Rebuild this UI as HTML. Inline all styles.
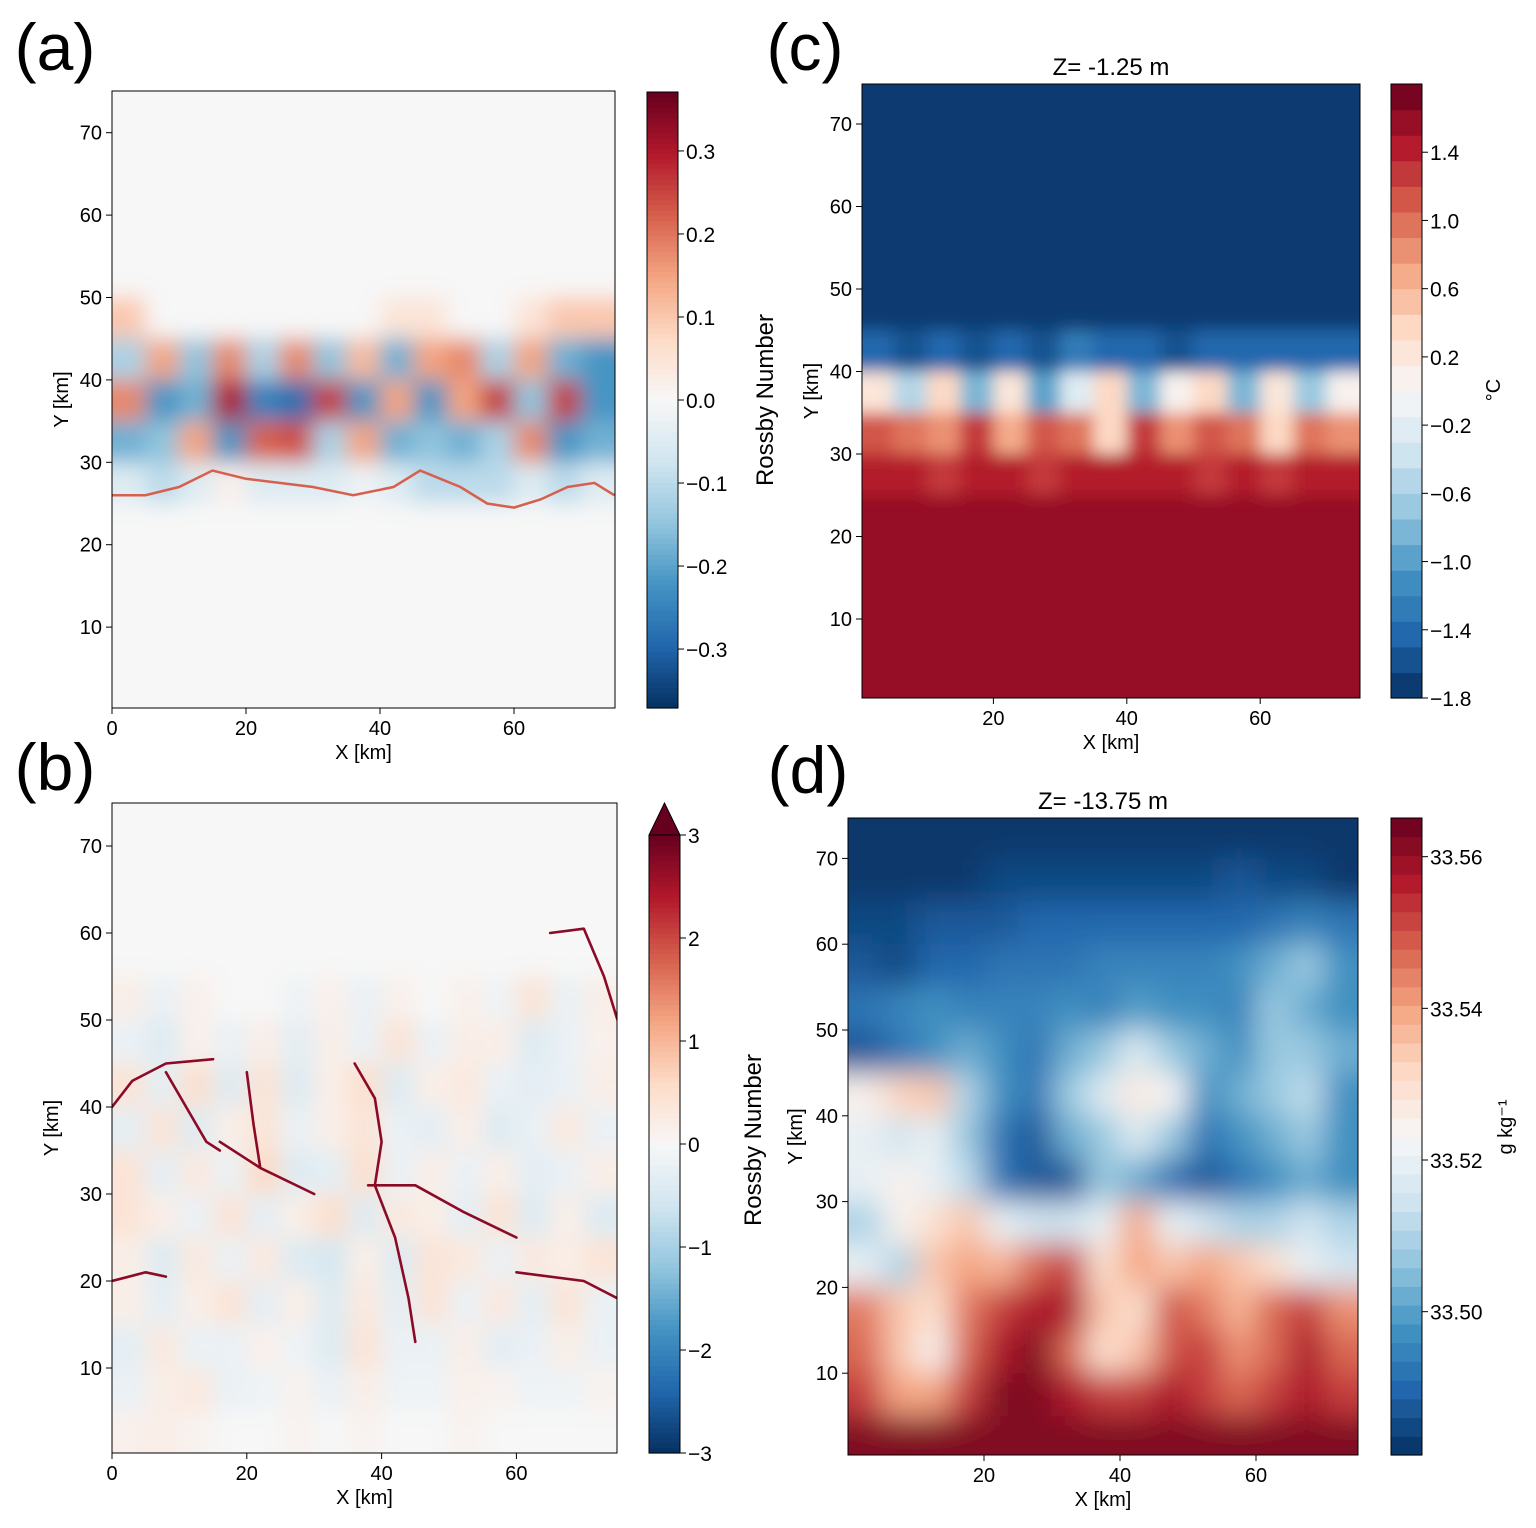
<!DOCTYPE html>
<html><head><meta charset="utf-8"><style>
html,body{margin:0;padding:0;background:#fff;}
svg{display:block;font-family:"Liberation Sans",sans-serif;}
</style></head><body>
<svg id="fig" width="1536" height="1528" viewBox="0 0 1536 1528" xmlns="http://www.w3.org/2000/svg">
<defs>
<filter id="blurA" x="-5%" y="-5%" width="110%" height="110%"><feGaussianBlur stdDeviation="11"/></filter>
<filter id="blurC" x="-5%" y="-5%" width="110%" height="110%"><feGaussianBlur stdDeviation="8"/></filter>
<filter id="blurD" x="-5%" y="-5%" width="110%" height="110%"><feGaussianBlur stdDeviation="15"/></filter>
</defs>
</svg>
<script>
// ---------- data ----------
const xTicks = [0,20,40,60];
const xTicksCD = [20,40,60];
const yTicks = [10,20,30,40,50,60,70];
const cbTicksA = [0.3,0.2,0.1,0.0,-0.1,-0.2,-0.3];
const cbTickLabelsA = ["0.3","0.2","0.1","0.0","\u22120.1","\u22120.2","\u22120.3"];
const cbTicksB = [3,2,1,0,-1,-2,-3];
const cbTickLabelsB = ["3","2","1","0","\u22121","\u22122","\u22123"];
const cbTicksC = [1.4,1.0,0.6,0.2,-0.2,-0.6,-1.0,-1.4,-1.8];
const cbTickLabelsC = ["1.4","1.0","0.6","0.2","\u22120.2","\u22120.6","\u22121.0","\u22121.4","\u22121.8"];
const cbTicksD = [33.56,33.54,33.52,33.50];
const cbTickLabelsD = ["33.56","33.54","33.52","33.50"];

const z0 = [0,0,0,0,0,0,0,0,0,0,0,0,0,0,0];
const fieldA = [
 z0,z0,z0,z0,z0,
 [0.1,0,0,0,0,0,0,0,0.05,0.05,0,0,0.05,0.1,0.1],
 [-0.12,0.15,-0.15,0.18,-0.12,0.18,-0.15,0.12,-0.18,0.15,0.18,-0.12,0.15,-0.18,-0.22],
 [0.18,-0.22,-0.18,0.3,-0.25,-0.28,0.26,-0.22,0.15,-0.22,0.15,0.26,-0.15,0.26,-0.22],
 [-0.18,-0.15,0.15,-0.22,0.22,0.24,-0.12,0.15,-0.18,-0.15,-0.18,-0.12,0.18,-0.22,-0.18],
 [-0.05,-0.1,-0.05,0.02,-0.05,-0.05,-0.05,-0.02,-0.05,-0.1,-0.1,-0.1,-0.05,-0.1,-0.05],
 z0,z0,z0,z0,z0
];
const fieldB = [
 z0,z0,z0,z0,
 [0.2,-0.2,0.15,0,0,-0.15,0.15,-0.2,0.15,0,0.15,-0.15,0.4,-0.2,0.2],
 [-0.2,-0.4,0.15,-0.2,0.2,-0.3,0.2,-0.2,0.4,-0.2,0.2,0.2,-0.4,-0.2,0.15],
 [0.4,-0.3,0.5,-0.4,0.4,-0.4,0.2,0.5,-0.4,0.2,0.3,-0.2,-0.3,-0.2,0.2],
 [-0.3,0.4,-0.4,0.2,0.4,-0.2,0.2,0.4,-0.2,-0.3,0.2,-0.4,-0.2,0.3,-0.2],
 [0.4,-0.3,0.3,-0.2,0.6,-0.4,-0.3,0.5,-0.2,0.2,-0.2,0.2,-0.3,-0.2,0.2],
 [0.4,0.2,-0.2,0.4,-0.3,0.2,0.5,-0.4,0.3,0.2,-0.3,0.4,-0.4,0.2,-0.4],
 [0.2,-0.4,0.3,-0.2,0.3,-0.4,-0.5,0.2,-0.4,0.4,0.3,-0.2,0.3,0.2,0.4],
 [0.2,-0.3,0.2,0.4,-0.3,0.2,-0.4,0.3,-0.3,0.4,-0.2,0.3,-0.3,0.4,-0.2],
 [-0.3,0.3,-0.2,-0.2,0.15,-0.15,-0.4,0.4,-0.2,-0.2,0.2,-0.3,-0.2,0.2,-0.2],
 [-0.2,0.2,0.3,-0.2,-0.15,0.1,-0.2,0.2,-0.15,-0.15,0.15,0.1,-0.15,-0.15,0.1],
 [0.15,0.2,0.1,0,0,0.1,0,0.1,0,0,0.1,0,0,0,0]
];
const cb = [-1.79,-1.79,-1.79,-1.79,-1.79,-1.79,-1.79,-1.79,-1.79,-1.79,-1.79,-1.79,-1.79,-1.79,-1.79];
const cr = [1.6,1.6,1.6,1.6,1.6,1.6,1.6,1.6,1.6,1.6,1.6,1.6,1.6,1.6,1.6];
const fieldC = [
 cb,cb,cb,cb,cb,cb,
 [-1.5,-1.6,-1.5,-1.6,-1.4,-1.6,-1.3,-1.5,-1.4,-1.6,-1.4,-1.5,-1.5,-1.4,-1.5],
 [0.2,-0.6,0.4,-0.8,0.2,-1.0,-0.3,0.3,-0.9,0.0,0.4,-0.8,0.2,-0.7,0.0],
 [1.1,1.0,0.8,1.2,0.6,1.1,1.0,0.3,1.2,0.8,1.1,1.0,0.3,0.9,0.8],
 [1.35,1.4,1.3,1.4,1.35,1.3,1.4,1.35,1.4,1.35,1.3,1.4,1.3,1.35,1.4],
 cr,cr,cr,cr,
 [1.5,1.6,1.6,1.6,1.6,1.6,1.6,1.5,1.6,1.6,1.6,1.5,1.5,1.6,1.6]
];
const fieldD = [
 [33.482,33.482,33.482,33.482,33.482,33.482,33.482,33.482,33.482,33.482,33.482,33.482,33.482,33.482,33.482],
 [33.482,33.482,33.482,33.482,33.484,33.486,33.486,33.486,33.486,33.486,33.486,33.487,33.486,33.484,33.483],
 [33.485,33.486,33.487,33.488,33.488,33.489,33.489,33.49,33.489,33.489,33.49,33.491,33.492,33.495,33.492],
 [33.488,33.486,33.49,33.491,33.492,33.493,33.492,33.494,33.495,33.496,33.495,33.498,33.503,33.508,33.498],
 [33.493,33.496,33.498,33.495,33.494,33.496,33.498,33.495,33.501,33.498,33.498,33.495,33.508,33.503,33.498],
 [33.488,33.493,33.498,33.503,33.498,33.493,33.503,33.508,33.518,33.508,33.503,33.498,33.508,33.508,33.503],
 [33.525,33.532,33.535,33.51,33.498,33.493,33.508,33.518,33.528,33.523,33.498,33.503,33.508,33.513,33.498],
 [33.52,33.515,33.52,33.508,33.493,33.488,33.503,33.508,33.518,33.508,33.493,33.498,33.503,33.508,33.498],
 [33.52,33.525,33.52,33.513,33.493,33.488,33.488,33.508,33.503,33.493,33.488,33.493,33.498,33.503,33.498],
 [33.51,33.525,33.53,33.535,33.52,33.515,33.515,33.52,33.54,33.52,33.515,33.51,33.51,33.515,33.51],
 [33.52,33.51,33.535,33.54,33.538,33.548,33.553,33.53,33.54,33.535,33.54,33.535,33.53,33.52,33.515],
 [33.545,33.535,33.53,33.545,33.553,33.558,33.558,33.535,33.53,33.55,33.545,33.538,33.548,33.553,33.543],
 [33.548,33.535,33.525,33.548,33.558,33.562,33.548,33.53,33.535,33.55,33.553,33.543,33.548,33.558,33.548],
 [33.553,33.54,33.54,33.553,33.562,33.562,33.558,33.553,33.553,33.558,33.553,33.548,33.553,33.558,33.553],
 [33.562,33.562,33.562,33.562,33.562,33.562,33.562,33.562,33.562,33.562,33.562,33.562,33.562,33.562,33.562]
];
const filX = [[0,3,8,15],[8,11,14,16],[36,39,40,39,42,44,45],[38,45,52,60],[65,70,73,75],[0,5,8],[60,70,75],[16,22,30],[20,21,22]];
const filY = [[40,43,45,45.5],[44,40,36,35],[45,41,36,31,25,18,13],[31,31,28,25],[60,60.5,55,50],[20,21,20.5],[21,20,18],[36,33,30],[44,38,33]];
const frontX = [0,5,10,15,20,25,30,36,42,46,52,56,60,64,68,72,75];
const frontY = [26,26,27,29,28,27.5,27,26,27,29,27,25,24.5,25.5,27,27.5,26];

// ---------- helpers ----------
const NS="http://www.w3.org/2000/svg";
const svg=document.getElementById('fig');
function mk(tag,attrs,parent){const e=document.createElementNS(NS,tag);for(const k in attrs)e.setAttribute(k,attrs[k]);(parent||svg).appendChild(e);return e;}
const stops=["#053061","#2166ac","#4393c3","#92c5de","#d1e5f0","#f7f7f7","#fddbc7","#f4a582","#d6604d","#b2182b","#67001f"];
function hex(h){return [parseInt(h.slice(1,3),16),parseInt(h.slice(3,5),16),parseInt(h.slice(5,7),16)];}
function cmap(t){t=Math.max(0,Math.min(1,t));const p=t*10,i=Math.min(9,Math.floor(p)),f=p-i;const a=hex(stops[i]),b=hex(stops[i+1]);return `rgb(${Math.round(a[0]+(b[0]-a[0])*f)},${Math.round(a[1]+(b[1]-a[1])*f)},${Math.round(a[2]+(b[2]-a[2])*f)})`;}

function panel(cfg){
  const g=mk('g',{});
  
  
  const X=km=>cfg.x0+(km-cfg.xmin)*cfg.sx;
  const Y=km=>cfg.y0-(km)*cfg.sy;
  const L=cfg.left,R=cfg.right,T=cfg.top,B=cfg.bottom;
  const cid='clip'+cfg.id;
  const cp=mk('clipPath',{id:cid},g);mk('rect',{x:L,y:T,width:R-L,height:B-T},cp);
  const clipG=mk('g',{'clip-path':`url(#${cid})`},g);
  const fg=mk('g',{filter:`url(#${cfg.filter})`},clipG);
  const norm=v=>(v-cfg.vmin)/(cfg.vmax-cfg.vmin);
  const q=v=>{if(!cfg.step)return v;return cfg.vmin+(Math.floor((v-cfg.vmin)/cfg.step)+0.5)*cfg.step;};
  const rows=cfg.field.length,cols=cfg.field[0].length;
  for(let r=0;r<rows;r++)for(let c=0;c<cols;c++){
    const v=cfg.field[r][c];
    let x1=X(c*5),x2=X((c+1)*5),y1=Y(75-r*5),y2=Y(75-(r+1)*5);
    if(c===0)x1-=50; if(c===cols-1)x2+=50; if(r===0)y1-=50; if(r===rows-1)y2+=50;
    const rc=mk('rect',{x:x1,y:y1,width:x2-x1+0.5,height:y2-y1+0.5,fill:cmap(norm(q(v)))},fg);
    
    
  }
  if(cfg.lines){
    for(let i=0;i<cfg.lines.xs.length;i++){
      const pts=cfg.lines.xs[i].map((xv,j)=>X(xv)+','+Y(cfg.lines.ys[i][j])).join(' ');
      const pl=mk('polyline',{points:pts,fill:'none',stroke:cfg.lines.color,'stroke-width':cfg.lines.w,'stroke-linejoin':'round','stroke-linecap':'round'},clipG);
      
      
    }
  }
  const fr=mk('rect',{x:L,y:T,width:R-L,height:B-T,fill:'none',stroke:'#000','stroke-width':1},g);
  
  
  cfg.xt.forEach(t=>{const xx=X(t);mk('line',{x1:xx,x2:xx,y1:B,y2:B+6,stroke:'#000'},g);
    const tx=mk('text',{x:xx,y:B+27,'font-size':20,'text-anchor':'middle'},g);tx.textContent=t;
    
    });
  yTicks.forEach(t=>{const yy=Y(t);mk('line',{x1:L-6,x2:L,y1:yy,y2:yy,stroke:'#000'},g);
    const tx=mk('text',{x:L-10,y:yy+7,'font-size':20,'text-anchor':'end'},g);tx.textContent=t;
    
    });
  const xl=mk('text',{x:(L+R)/2,y:B+51,'font-size':20,'text-anchor':'middle'},g);xl.textContent='X [km]';
  
  
  const yl=mk('text',{x:0,y:0,'font-size':20,'text-anchor':'middle',transform:`translate(${cfg.ylx},${(T+B)/2}) rotate(-90)`},g);yl.textContent='Y [km]';
  
  
  const cbx=cfg.cb.x,cbw=31,cbt=cfg.cb.t,cbb=cfg.cb.b;
  const CY=v=>cbb-(v-cfg.vmin)/(cfg.vmax-cfg.vmin)*(cbb-cbt);
  const cg=mk('g',{},g);
  
  
  const n=cfg.step?Math.round((cfg.vmax-cfg.vmin)/cfg.step):120;
  const st=(cfg.vmax-cfg.vmin)/n;
  for(let i=0;i<n;i++){const v0=cfg.vmin+i*st;
    mk('rect',{x:cbx,y:CY(v0+st),width:cbw,height:CY(v0)-CY(v0+st)+0.6,fill:cmap(norm(v0+st/2))},cg);}
  if(cfg.cb.tri){mk('polygon',{points:`${cbx},${cbt} ${cbx+cbw},${cbt} ${cbx+cbw/2},${cbt-32}`,fill:'#67001f',stroke:'#000','stroke-width':1},cg);
    mk('polyline',{points:`${cbx},${cbt} ${cbx},${cbb} ${cbx+cbw},${cbb} ${cbx+cbw},${cbt}`,fill:'none',stroke:'#000'},cg);}
  else mk('rect',{x:cbx,y:cbt,width:cbw,height:cbb-cbt,fill:'none',stroke:'#000'},cg);
  cfg.cb.ticks.forEach((t,i)=>{const yy=CY(t);mk('line',{x1:cbx+cbw,x2:cbx+cbw+6,y1:yy,y2:yy,stroke:'#000'},cg);
    const tx=mk('text',{x:cbx+cbw+8,y:yy+8,'font-size':21},cg);tx.textContent=cfg.cb.labels[i];
    
    });
  const cl=mk('text',{x:0,y:0,'font-size':cfg.cb.lsize||24,'text-anchor':'middle',transform:`translate(${cfg.cb.lx},${cfg.cb.ly}) rotate(-90)`},cg);cl.textContent=cfg.cb.label;
  
  
  if(cfg.title){const tt=mk('text',{x:(L+R)/2,y:T-9,'font-size':24,'text-anchor':'middle'},g);tt.textContent=cfg.title;
    
    }
  const lt=mk('text',{x:cfg.letter[0],y:cfg.letter[1],'font-size':66,'text-anchor':'middle'},g);lt.textContent=cfg.letter[2];
  
  
  return {X,Y,clipG};
}

const pa=panel({id:'a',name:'panel-a-rossby-surface',field:fieldA,vmin:-0.371,vmax:0.371,filter:'blurA',left:112,right:615,top:91,bottom:708,
  x0:112,xmin:0,sx:6.7,y0:709.5,sy:8.24,xt:xTicks,ylx:68,
  cb:{x:647,t:92,b:708,ticks:cbTicksA,labels:cbTickLabelsA,label:'Rossby Number',lx:773,ly:400},letter:[55,70,'(a)']});
const fl=mk('polyline',{points:frontX.map((xv,i)=>pa.X(xv)+','+pa.Y(frontY[i])).join(' '),fill:'none',stroke:'#d6604d','stroke-width':2.5},pa.clipG);



panel({id:'b',name:'panel-b-rossby-depth',field:fieldB,vmin:-3,vmax:3,filter:'blurA',left:112,right:617,top:803,bottom:1453,
  x0:112,xmin:0,sx:6.74,y0:1455,sy:8.7,xt:xTicks,ylx:58,
  lines:{xs:filX,ys:filY,color:'#8b0a26',w:2.6},
  cb:{x:649,t:835,b:1453,tri:true,ticks:cbTicksB,labels:cbTickLabelsB,label:'Rossby Number',lx:761,ly:1140},letter:[55,790,'(b)']});

panel({id:'c',name:'panel-c-temperature',field:fieldC,vmin:-1.8,vmax:1.8,step:0.15,filter:'blurC',left:862,right:1360,top:84,bottom:698,
  x0:860,xmin:0,sx:6.67,y0:701.5,sy:8.25,xt:xTicksCD,ylx:818,title:'Z= -1.25 m',
  cb:{x:1391,t:84,b:698,ticks:cbTicksC,labels:cbTickLabelsC,label:'\u00b0C',lx:1500,ly:390,lsize:20},letter:[805,70,'(c)']});

panel({id:'d',name:'panel-d-salinity',field:fieldD,vmin:33.4811,vmax:33.5651,step:0.0025,filter:'blurD',left:848,right:1358,top:818,bottom:1455,
  x0:848,xmin:0,sx:6.8,y0:1459,sy:8.58,xt:xTicksCD,ylx:802,title:'Z= -13.75 m',
  cb:{x:1391,t:818,b:1455,ticks:cbTicksD,labels:cbTickLabelsD,label:'g kg\u207b\u00b9',lx:1512,ly:1127,lsize:20},letter:[808,793,'(d)']});
</script>
</body></html>
